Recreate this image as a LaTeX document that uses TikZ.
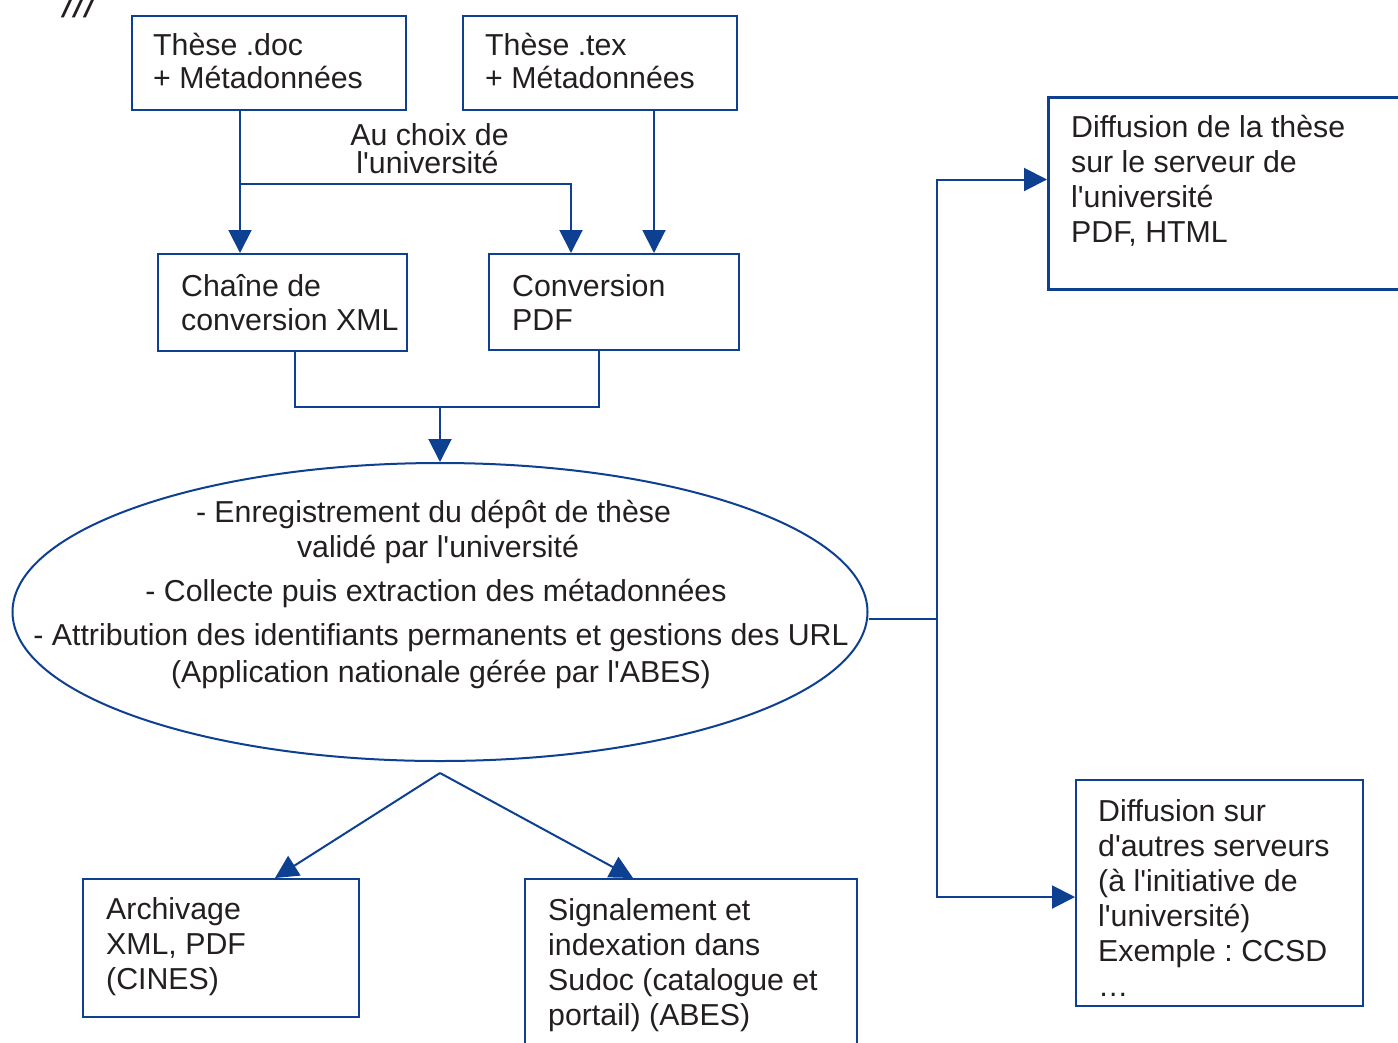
\documentclass[tikz,border=0pt]{standalone}
\usepackage{fontspec}
\setmainfont{Liberation Sans}
\newfontfamily\lsans{Liberation Sans}
\usetikzlibrary{arrows.meta,shapes.geometric,calc}
\definecolor{lineblue}{RGB}{14,64,145}
\definecolor{textgray}{RGB}{35,31,32}
\newcommand{\topstrut}{\rule{0pt}{24pt}}
\begin{document}
\frenchspacing
\begin{tikzpicture}[x=1pt,y=-1pt,
  box/.style={draw=lineblue, line width=2pt, rectangle, inner sep=0pt, anchor=north west},
  txt/.style={text=textgray, font=\lsans\fontsize{30.3}{35}\selectfont, align=left, anchor=north west, inner sep=0pt},
  ttxt/.style={txt, font=\lsans\fontsize{30.3}{33.5}\selectfont},
  ctxt/.style={text=textgray, font=\lsans\fontsize{30.3}{35}\selectfont, anchor=base, inner sep=0pt},
  arr/.style={draw=lineblue, line width=2pt, -{Triangle[length=23pt,width=23pt]}},
  ln/.style={draw=lineblue, line width=2pt}]
\clip (0,0) rectangle (1398,1042);
\fill[white] (0,0) rectangle (1398,1042);

% stray marks
\node[text=textgray, font=\lsans\fontsize{40}{40}\selectfont\itshape, anchor=base west, inner sep=0pt] (marks) at (63,17) {///};

% top boxes
\node[box, minimum width=274pt, minimum height=94pt] (doc) at (131,15) {};
\node[ttxt] (docT) at (153,31) {\topstrut Thèse .doc\\+ Métadonnées};
\node[box, minimum width=274pt, minimum height=94pt] (tex) at (462,15) {};
\node[ttxt] (texT) at (485,31) {\topstrut Thèse .tex\\+ Métadonnées};

% choice label
\node[ctxt] (choix1) at (429.5,145) {Au choix de};
\node[ctxt] (choix2) at (427.5,173) {l'université};

% conversion boxes
\node[box, minimum width=249pt, minimum height=97pt] (xml) at (157,253) {};
\node[ttxt] (xmlT) at (181,272.5) {\topstrut Chaîne de\\conversion XML};
\node[box, minimum width=250pt, minimum height=96pt] (pdf) at (488,253) {};
\node[ttxt] (pdfT) at (512,272.5) {\topstrut Conversion\\PDF};

% ellipse
\node[draw=lineblue, line width=2pt, ellipse, minimum width=855pt, minimum height=298pt, inner sep=0pt] (reg) at (440,612) {};
\node[ctxt] (e1) at (433.5,522) {- Enregistrement du dépôt de thèse};
\node[ctxt] (e2) at (438,557) {validé par l'université};
\node[ctxt] (e3) at (436,601) {- Collecte puis extraction des métadonnées};
\node[ctxt] (e4) at (441,645) {- Attribution des identifiants permanents et gestions des URL};
\node[ctxt] (e5) at (441,682) {(Application nationale gérée par l'ABES)};

% right boxes
\node[box, line width=3pt, minimum width=400pt, minimum height=192pt] (diff1) at (1047,96) {};
\node[txt] (diff1T) at (1071,113) {\topstrut Diffusion de la thèse\\sur le serveur de\\l'université\\PDF, HTML};
\node[box, minimum width=287pt, minimum height=226pt] (diff2) at (1075,779) {};
\node[txt] (diff2T) at (1098,797) {\topstrut Diffusion sur\\d'autres serveurs\\(à l'initiative de\\l'université)\\Exemple : CCSD\\…};

% bottom boxes
\node[box, minimum width=276pt, minimum height=138pt] (arch) at (82,878) {};
\node[txt] (archT) at (106,895) {\topstrut Archivage\\XML, PDF\\(CINES)};
\node[box, minimum width=332pt, minimum height=200pt] (sig) at (524,878) {};
\node[txt] (sigT) at (548,896) {\topstrut Signalement et\\indexation dans\\Sudoc (catalogue et\\portail) (ABES)};

% connectors
\coordinate (j1) at (240,184);
\coordinate (j2) at (440,407);
\coordinate (hub) at (937,619);
\coordinate (apex) at (440,773);

\draw[arr] ([xshift=109pt]doc.south west) -- ([xshift=83pt]xml.north west);
\draw[arr] (j1) -| ([xshift=83pt]pdf.north west);
\draw[arr] ([xshift=192pt]tex.south west) -- ([xshift=166pt]pdf.north west);
\draw[ln] ([xshift=138pt]xml.south west) |- (j2) -| ([xshift=111pt]pdf.south west);
\draw[arr] (j2) -- (reg.north);
\draw[ln] ([yshift=-7pt]reg.east) -- (hub);
\draw[arr] (hub) |- ([yshift=14pt]diff1.west);
\draw[arr] (hub) |- ([yshift=-4pt]diff2.west);
\draw[arr] (apex) -- ([xshift=193pt]arch.north west);
\draw[arr] (apex) -- ([xshift=109pt]sig.north west);
\end{tikzpicture}
\end{document}
